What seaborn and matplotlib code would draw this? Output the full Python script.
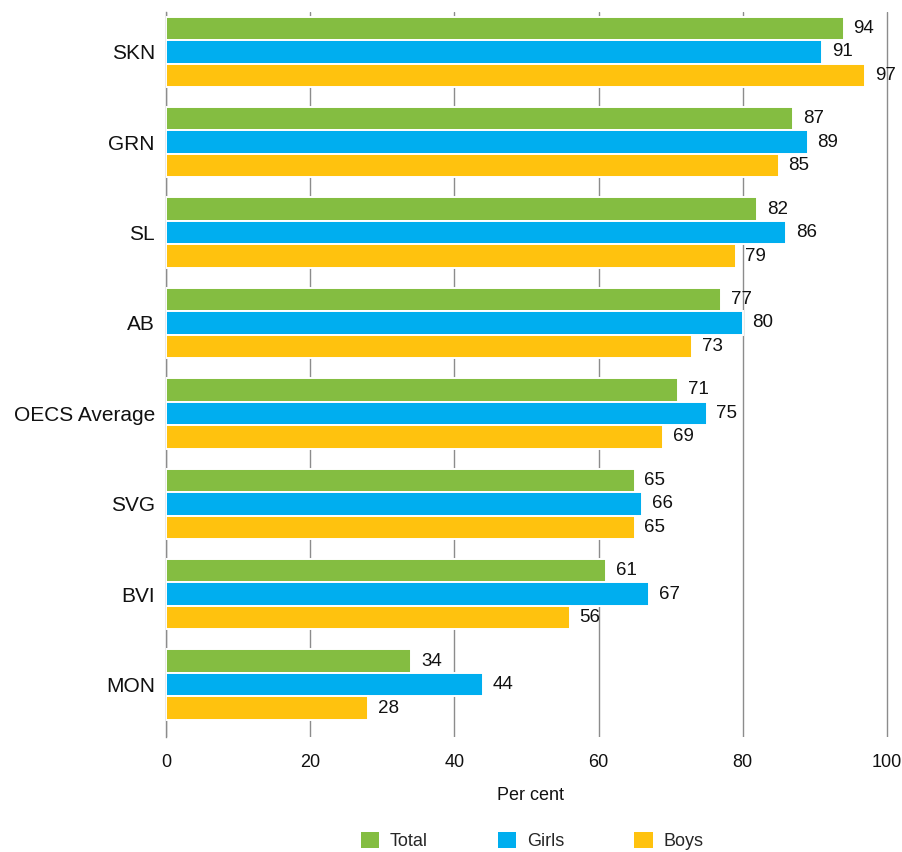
import matplotlib
matplotlib.use("Agg")
import matplotlib.pyplot as plt
import seaborn as sns
import pandas as pd
from matplotlib.patches import Patch

countries = ["SKN", "GRN", "SL", "AB", "OECS Average", "SVG", "BVI", "MON"]
total = [94, 87, 82, 77, 71, 65, 61, 34]
girls = [91, 89, 86, 80, 75, 66, 67, 44]
boys = [97, 85, 79, 73, 69, 65, 56, 28]
series = ["Total", "Girls", "Boys"]
colors = ["#84BD41", "#00AEEF", "#FFC20E"]
xticks = [0, 20, 40, 60, 80, 100]

rows = []
for i, c in enumerate(countries):
    rows.append({"country": c, "series": "Total", "value": total[i]})
    rows.append({"country": c, "series": "Girls", "value": girls[i]})
    rows.append({"country": c, "series": "Boys", "value": boys[i]})
df = pd.DataFrame(rows)

sns.set_theme(style="white")
plt.rcParams["font.family"] = ["Liberation Sans", "DejaVu Sans"]

fig = plt.figure(figsize=(9.02, 8.52), dpi=100)
px_per_unit = (887 - 166) / 100
right_px = 166 + 101 * px_per_unit
ax = fig.add_axes([166/902, 1-737/852, (right_px-166)/902, (737-12)/852])

sns.barplot(data=df, y="country", x="value", hue="series", order=countries,
            hue_order=series, palette=colors, saturation=1, width=0.78, orient="h",
            edgecolor="white", linewidth=1.4, ax=ax, legend=False, zorder=3)

for cont in ax.containers:
    ax.bar_label(cont, fmt="%d", padding=7, fontsize=13.5, color="#111111")

ax.set_xlim(0, 101)
ax.set_ylim(len(countries) - 0.5 + 0.08, -0.5 + 0.06)
ax.set_xticks(xticks)
ax.set_xticklabels([str(t) for t in xticks])
ax.xaxis.grid(True, color="#8c8c8c", linewidth=1.0, zorder=0)
ax.yaxis.grid(False)
for s in ["top", "right", "bottom"]:
    ax.spines[s].set_visible(False)
ax.spines["left"].set_color("#8c8c8c")
ax.spines["left"].set_linewidth(1.0)
ax.tick_params(axis="x", length=0, pad=12, labelsize=13, colors="#111111")
ax.tick_params(axis="y", length=0, pad=8, labelsize=15, colors="#111111")
ax.set_ylabel("")
ax.set_xlabel("Per cent", fontsize=13, color="#111111", labelpad=12)

handles = [Patch(facecolor=c, edgecolor="none") for c in colors]
fig.legend(handles, series, loc="center", bbox_to_anchor=(532/902, 1-841/852),
           ncol=3, frameon=False, fontsize=13, handlelength=1.0, handleheight=1.0,
           columnspacing=3.9, handletextpad=0.6)

fig.savefig("out.png", dpi=100)
